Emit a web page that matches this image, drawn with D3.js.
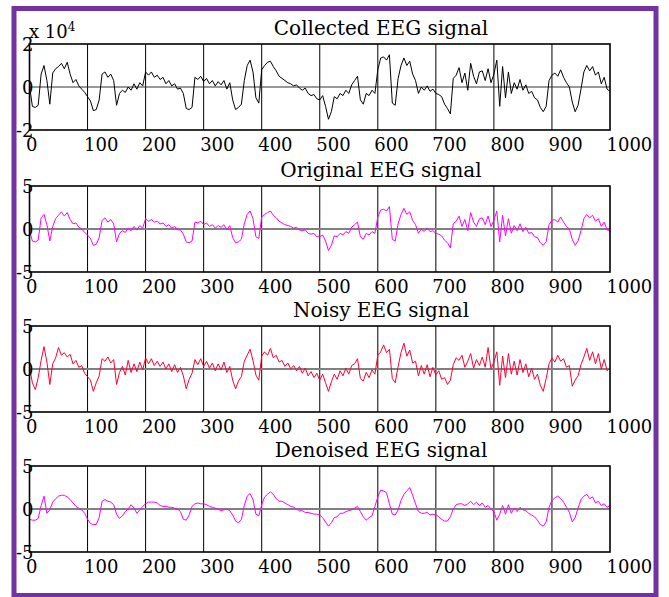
<!DOCTYPE html>
<html>
<head>
<meta charset="utf-8">
<script src="https://cdn.jsdelivr.net/npm/d3@7"></script>
<style>
  body { margin: 0; background: #fff; }
  svg text { font-family: "DejaVu Serif", serif; fill: #000; }
</style>
</head>
<body>
<svg id="chart" width="669" height="597"></svg>
<script>
// ---- data (one value every 5 samples, 0..1000) ----
const sampleStep = 5;
const xTicks = [0, 100, 200, 300, 400, 500, 600, 700, 800, 900, 1000];
const gridTicks = [100, 200, 300, 400, 500, 600, 700, 800, 900];
const titles = ['Collected EEG signal', 'Original EEG signal', 'Noisy EEG signal', 'Denoised EEG signal'];
const yLimits = [[-2, 2], [-5, 5], [-5, 5], [-5, 5]];
const yTickLabels = [['-2', '0', '2'], ['-5', '0', '5'], ['-5', '0', '5'], ['-5', '0', '5']];
const lineColors = ['#000000', '#ff00ff', '#ff0033', '#ff00ff'];

// collected signal, units of 1e4
const collected = [
  0.05,-0.9,-0.95,-0.85,0.6,1.0,0.3,-0.8,0.65,0.85,
  0.95,1.1,0.85,1.15,0.6,0.2,0.35,0.05,-0.1,-0.25,
  -0.45,-0.65,-1.1,-1.05,-0.6,0.6,0.7,0.45,0.6,0.3,
  -0.85,-0.3,-0.15,-0.25,0.0,-0.15,0.15,-0.1,0.2,0.05,
  0.7,0.55,0.7,0.45,0.55,0.35,0.45,0.15,0.3,0.05,
  0.15,-0.1,-0.05,-0.3,-1.0,-1.05,-0.95,0.45,0.35,0.5,
  0.25,0.4,0.15,0.3,0.05,0.25,0.1,0.3,-0.1,0.2,
  -0.6,-1.05,-0.95,-0.8,0.3,1.0,1.25,0.7,-0.5,-0.75,
  0.8,1.0,1.15,1.2,0.95,0.75,0.5,0.4,0.3,0.2,
  0.15,0.05,0.1,-0.05,-0.15,-0.05,-0.3,-0.4,-0.35,-0.55,
  -0.6,-0.4,-0.9,-1.5,-1.15,-0.45,-0.55,-0.3,-0.4,-0.15,
  -0.3,0.1,0.3,0.5,-0.6,-0.8,-0.3,-0.4,-0.15,-0.3,
  0.8,1.35,1.4,1.25,1.5,-0.75,-0.85,0.4,1.0,1.35,
  1.0,1.2,0.6,0.3,-0.3,0.0,-0.15,0.05,-0.2,-0.1,
  -0.3,-0.35,-0.45,-0.8,-1.0,-1.25,0.4,0.55,0.9,0.2,
  0.65,-0.15,1.1,0.5,0.15,0.7,0.75,0.3,0.85,0.2,
  0.6,1.25,-0.9,0.95,-0.5,0.7,-0.3,0.2,-0.1,0.35,
  -0.15,0.1,-0.3,-0.2,-0.5,-0.6,-0.95,-1.15,-0.9,0.3,
  0.55,0.65,0.5,0.8,0.45,0.2,0.0,-0.7,-1.15,-0.85,
  -0.1,0.7,1.0,0.75,0.95,0.55,0.7,0.15,0.45,-0.1,
  -0.2
];

const original = [
  -0.2,-1.4,-1.5,-1.3,1.3,1.7,0.5,-1.4,0.3,1.2,
  1.6,2.0,1.5,1.9,1.1,0.6,0.7,0.2,0.0,-0.4,
  -0.7,-1.1,-1.9,-1.8,-1.0,1.0,1.3,0.8,1.1,0.6,
  -1.5,-0.5,-0.2,-0.4,0.1,-0.2,0.3,-0.1,0.4,0.1,
  1.2,0.9,1.1,0.8,0.9,0.6,0.7,0.3,0.5,0.1,
  0.3,-0.1,-0.1,-0.6,-1.5,-1.6,-1.4,0.8,0.7,0.9,
  0.5,0.7,0.3,0.5,0.1,0.4,0.2,0.5,-0.1,0.4,
  -1.0,-1.6,-1.5,-1.2,0.6,1.7,2.1,1.2,-0.9,-1.1,
  1.4,1.7,1.9,2.1,1.6,1.3,0.9,0.7,0.5,0.4,
  0.3,0.1,0.2,-0.1,-0.2,-0.1,-0.5,-0.6,-0.5,-0.9,
  -0.9,-0.7,-1.4,-2.5,-1.9,-0.8,-0.9,-0.5,-0.7,-0.3,
  -0.5,0.2,0.5,0.8,-0.9,-1.2,-0.5,-0.7,-0.3,-0.5,
  1.4,2.2,2.3,2.1,2.6,-1.2,-1.4,0.6,1.7,2.4,
  1.7,2.0,1.0,0.5,-0.5,0.0,-0.3,0.1,-0.3,-0.2,
  -0.5,-0.6,-0.8,-1.3,-1.6,-2.2,0.6,0.9,1.5,0.3,
  1.1,-0.2,1.9,0.8,0.3,1.2,1.3,0.5,1.5,0.3,
  1.0,2.1,-1.5,1.6,-0.8,1.2,-0.5,0.4,-0.2,0.6,
  -0.3,0.2,-0.5,-0.4,-0.9,-1.0,-1.6,-1.9,-1.5,0.5,
  1.0,1.1,0.8,1.4,0.8,0.3,0.0,-1.2,-1.9,-1.4,
  -0.2,1.2,1.7,1.3,1.6,0.9,1.2,0.3,0.8,-0.1,
  -0.3
];

const noisy = [
  0.2,-1.6,-2.4,-1.0,1.0,2.6,0.8,-1.8,0.6,1.3,
  2.5,1.6,1.9,1.4,1.7,0.6,1.0,0.2,0.4,-0.5,
  -0.9,-1.3,-2.6,-1.6,-0.8,1.2,0.9,1.4,0.7,1.1,
  -1.8,-0.4,0.3,-0.7,1.0,-0.4,0.6,-0.3,0.8,-0.1,
  1.3,0.6,1.2,0.4,0.9,0.3,0.8,0.0,0.6,-0.3,
  0.5,-0.4,0.2,-0.8,-2.3,-1.2,-0.5,1.1,0.5,1.2,
  0.3,0.9,0.1,0.7,-0.2,0.6,-0.1,0.8,-0.4,0.3,
  -1.3,-2.3,-1.4,-0.9,0.9,1.6,2.3,1.0,-0.7,-1.3,
  1.5,2.0,1.6,2.4,1.3,1.6,0.8,1.0,0.3,0.7,
  0.0,0.4,-0.2,0.3,-0.5,0.1,-0.8,-0.3,-1.0,-0.5,
  -1.3,-0.6,-1.6,-2.6,-1.5,-0.6,-1.2,-0.2,-0.8,0.1,
  -0.6,0.4,0.6,1.2,-1.1,-1.4,-0.4,-1.0,-0.1,-0.6,
  1.6,2.0,2.8,1.9,2.3,-1.1,-1.6,0.3,1.9,3.0,
  1.5,2.2,0.7,0.9,-0.8,0.4,-0.6,0.5,-0.9,0.2,
  -0.7,-0.2,-1.2,-1.0,-1.8,-1.3,0.5,1.3,1.0,1.6,
  0.2,0.9,1.8,0.1,1.1,0.4,1.4,0.2,2.5,0.0,
  0.8,2.0,-1.9,1.5,-1.0,1.8,-0.6,0.9,-0.7,1.1,
  -0.4,0.6,-0.9,0.1,-1.2,-0.6,-1.9,-2.6,-1.1,0.6,
  1.3,0.8,1.6,0.9,1.2,0.2,0.4,-2.0,-1.3,-0.8,
  0.5,1.4,2.4,1.0,2.0,0.6,1.8,0.0,1.1,-0.2,
  0.1
];

const denoised = [
  -1.2,-1.3,-1.3,-1.1,0.4,1.5,-0.5,-0.1,0.8,1.2,
  1.5,1.6,1.6,1.4,1.1,0.7,0.3,0.1,-0.1,-0.5,
  -1.2,-1.7,-1.8,-1.8,-1.0,0.9,1.1,0.9,0.8,0.5,
  -0.6,-1.1,-0.8,-0.3,0.0,0.5,0.1,-0.5,-0.1,0.3,
  0.6,0.8,0.8,0.8,0.7,0.4,0.3,0.3,0.2,0.2,
  0.1,0.0,-0.3,-1.2,-1.3,-0.7,0.3,0.6,0.7,0.6,
  0.6,0.5,0.3,0.2,0.1,0.0,-0.2,-0.1,0.0,-0.2,
  -0.7,-1.4,-1.6,-1.2,0.4,1.5,1.8,1.1,-0.6,-0.8,
  0.5,1.4,1.7,2.0,1.7,1.2,0.9,0.9,0.7,0.5,
  0.3,0.2,0.0,-0.2,-0.2,-0.4,-0.4,-0.5,-0.6,-0.6,
  -0.7,-1.0,-1.5,-2.0,-1.6,-1.0,-0.9,-0.5,-0.5,-0.3,
  -0.2,-0.1,0.1,0.3,-0.3,-0.9,-1.3,-1.0,-0.8,0.3,
  1.4,2.2,2.1,1.9,0.6,-0.6,-0.7,-0.1,1.0,1.7,
  2.1,2.5,1.6,0.6,-0.3,-0.5,-0.5,-0.4,-0.7,-0.6,
  -0.7,-0.9,-1.2,-1.4,-1.4,-0.9,0.0,0.5,0.6,0.6,
  0.4,0.6,0.9,0.5,0.8,0.4,0.7,0.2,0.4,0.0,
  -0.3,-1.3,-0.6,0.4,-0.6,0.5,-0.5,0.1,-0.3,0.2,
  -0.1,-0.2,-0.5,-0.7,-0.9,-1.3,-1.8,-2.0,-1.5,0.2,
  1.0,1.3,1.5,1.2,0.8,0.2,-0.4,-1.5,-1.0,0.1,
  1.1,1.5,1.7,1.2,1.4,0.7,0.9,0.4,0.6,0.2,
  0.4
];

const series = [collected, original, noisy, denoised];

// ---- layout ----
const width = 669, height = 597;
const plotLeft = 29.5, plotRight = 610;
const plotTops = [44, 186, 326, 466];
const plotHeight = 86;

const svg = d3.select('#chart');

// purple frame round the figure
svg.append('rect')
    .attr('x', 14).attr('y', 8.5)
    .attr('width', 642).attr('height', 587)
    .style('fill', 'none')
    .style('stroke', '#7232a2')
    .style('stroke-width', 5);

let x = d3.scaleLinear().domain([0, 1000]).range([plotLeft, plotRight]);

series.forEach((values, i) => {
    let top = plotTops[i];
    let y = d3.scaleLinear().domain(yLimits[i]).range([top + plotHeight, top]);
    let g = svg.append('g');

    // vertical grid lines
    g.selectAll('line.grid')
        .data(gridTicks)
        .join('line')
        .attr('class', 'grid')
        .attr('x1', d => x(d)).attr('x2', d => x(d))
        .attr('y1', top).attr('y2', top + plotHeight)
        .style('stroke', '#000')
        .style('stroke-width', 1);

    // zero line
    g.append('line')
        .attr('x1', x(0)).attr('x2', x(1000))
        .attr('y1', y(0)).attr('y2', y(0))
        .style('stroke', i === 0 ? '#333' : '#808080')
        .style('stroke-width', i === 0 ? 1 : 2);

    // the signal
    let line = d3.line()
        .x((d, k) => x(k * sampleStep))
        .y(d => y(d));
    g.append('path')
        .datum(values)
        .attr('d', line)
        .style('fill', 'none')
        .style('stroke', lineColors[i])
        .style('stroke-width', 1);

    // box
    g.append('rect')
        .attr('x', plotLeft).attr('y', top)
        .attr('width', plotRight - plotLeft).attr('height', plotHeight)
        .style('fill', 'none')
        .style('stroke', '#000')
        .style('stroke-width', 1.6);

    // x axis labels
    let xAxis = d3.axisBottom(x).tickValues(xTicks).tickSize(0).tickPadding(8).tickFormat(d3.format('d'));
    let xg = g.append('g')
        .attr('transform', `translate(0, ${top + plotHeight})`)
        .call(xAxis);
    xg.select('.domain').remove();
    xg.selectAll('text')
        .attr('text-anchor', 'start')
        .attr('x', -4)
        .style('font-size', '18px')
        .style('font-family', '"DejaVu Serif", serif');

    // y axis labels
    let yAxis = d3.axisLeft(y)
        .tickValues([yLimits[i][0], 0, yLimits[i][1]])
        .tickSize(0).tickPadding(-4)
        .tickFormat((d, k) => yTickLabels[i][k]);
    let yg = g.append('g')
        .attr('transform', `translate(${plotLeft}, 0)`)
        .call(yAxis);
    yg.select('.domain').remove();
    yg.selectAll('text')
        .attr('dy', '0.38em')
        .style('font-size', '18px')
        .style('font-family', '"DejaVu Serif", serif');

    // title
    svg.append('text')
        .attr('x', 381)
        .attr('y', top - 9)
        .attr('text-anchor', 'middle')
        .style('font-size', '20px')
        .text(titles[i]);
});

// exponent note on the first plot
let expo = svg.append('text')
    .attr('x', 29)
    .attr('y', 38)
    .style('font-size', '18px');
expo.append('tspan').text('x 10');
expo.append('tspan').attr('dy', -7).style('font-size', '12px').text('4');
</script>
</body>
</html>
